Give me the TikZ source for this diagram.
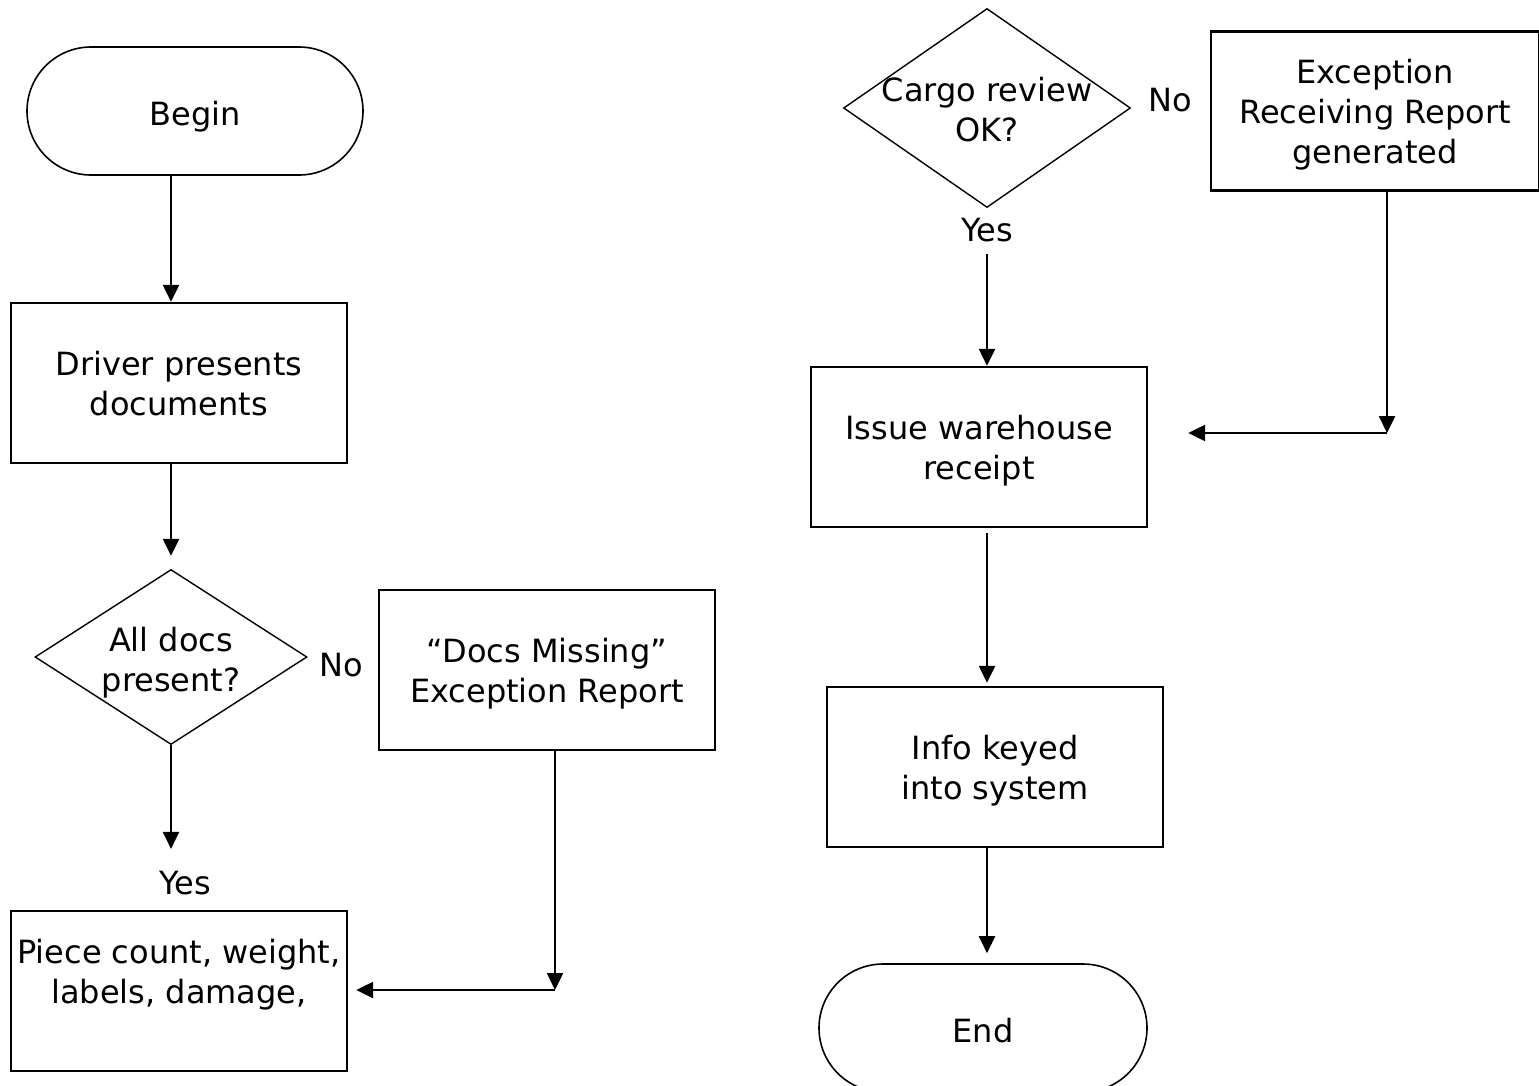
\documentclass[tikz,border=0pt]{standalone}
\usepackage{fontspec}
\setmainfont{DejaVu Sans}
\usepackage{xcolor}
\usepackage{tikz}
\usetikzlibrary{arrows.meta,positioning,shapes.geometric}
\definecolor{inkc}{HTML}{000000}
\tikzset{
  ar/.style={-{Triangle[length=17pt,width=16pt]},line width=2.4pt,inkc},
  box/.style={draw=inkc,line width=2.4pt,minimum width=336pt,minimum height=160pt,align=center,inner sep=0pt,text depth=-3pt},
  term/.style={draw=inkc,line width=1.6pt,rounded corners=64pt,minimum width=336pt,minimum height=128pt,inner sep=0pt,text height=28pt,text depth=0pt},
  dia/.style={draw=inkc,line width=1.4pt,diamond,inner sep=0pt},
  txt/.style={align=center,inner sep=0pt}
}

\begin{document}
\begin{tikzpicture}[x=1pt,y=-1pt,font=\fontsize{32}{40}\selectfont]
\useasboundingbox (0,0) rectangle (1539,1085);
% left column
\node[term] (begin) at (195,111) {Begin};
\node[box] (drv) at (179,383) {Driver presents\\documents};
\node[dia,minimum width=272pt,minimum height=175pt] (q1) at (171,657) {};
\node[txt] (q1t) at (171,663) {All docs\\present?};
\node[txt] (yes1) at (185,883) {Yes};
\node[txt] (no1) at (341,665) {No};
\node[box] (miss) at (547,670) {\char"201C Docs Missing\char"201D\\Exception Report};
\node[box] (piece) at (179,991) {Piece count, weight,\\labels, damage,\\\strut};
\coordinate (c1) at (555,990);
\draw[ar] (begin.south -| q1) -- (drv.north -| q1);
\draw[ar,shorten >=13pt] (drv.south -| q1) -- (q1.north);
\draw[ar] (q1.south) -- ([yshift=22pt]yes1.north -| q1);
\draw[ar] (miss.south -| c1) -- (c1);
\draw[ar,shorten >=8pt] (c1) -- (piece.east |- c1);
% right column
\node[dia,minimum width=287pt,minimum height=199pt] (q2) at (987,108) {};
\node[txt] (q2t) at (987,110) {Cargo review\\OK?};
\node[txt] (no2) at (1170,100) {No};
\node[box,minimum width=328pt,minimum height=159pt] (exc) at (1375,111) {Exception\\Receiving Report\\generated};
\node[txt] (yes2) at (987,230) {Yes};
\node[box] (issue) at (979,447) {Issue warehouse\\receipt};
\node[box] (info) at (995,767) {Info keyed\\into system};
\node[term,minimum width=328pt] (end) at (983,1028) {End};
\coordinate (c2) at (1387,433);
\draw[ar,shorten <=12pt] (yes2.south) -- (issue.north -| yes2);
\draw[ar] (exc.south -| c2) -- (c2);
\draw[ar,shorten >=40pt] (c2) -- (issue.east |- c2);
\draw[ar,shorten <=5pt] (issue.south -| yes2) -- ([yshift=3pt]info.north -| yes2);
\draw[ar,shorten >=10pt] (info.south -| yes2) -- (end.north -| yes2);
\end{tikzpicture}
\end{document}
